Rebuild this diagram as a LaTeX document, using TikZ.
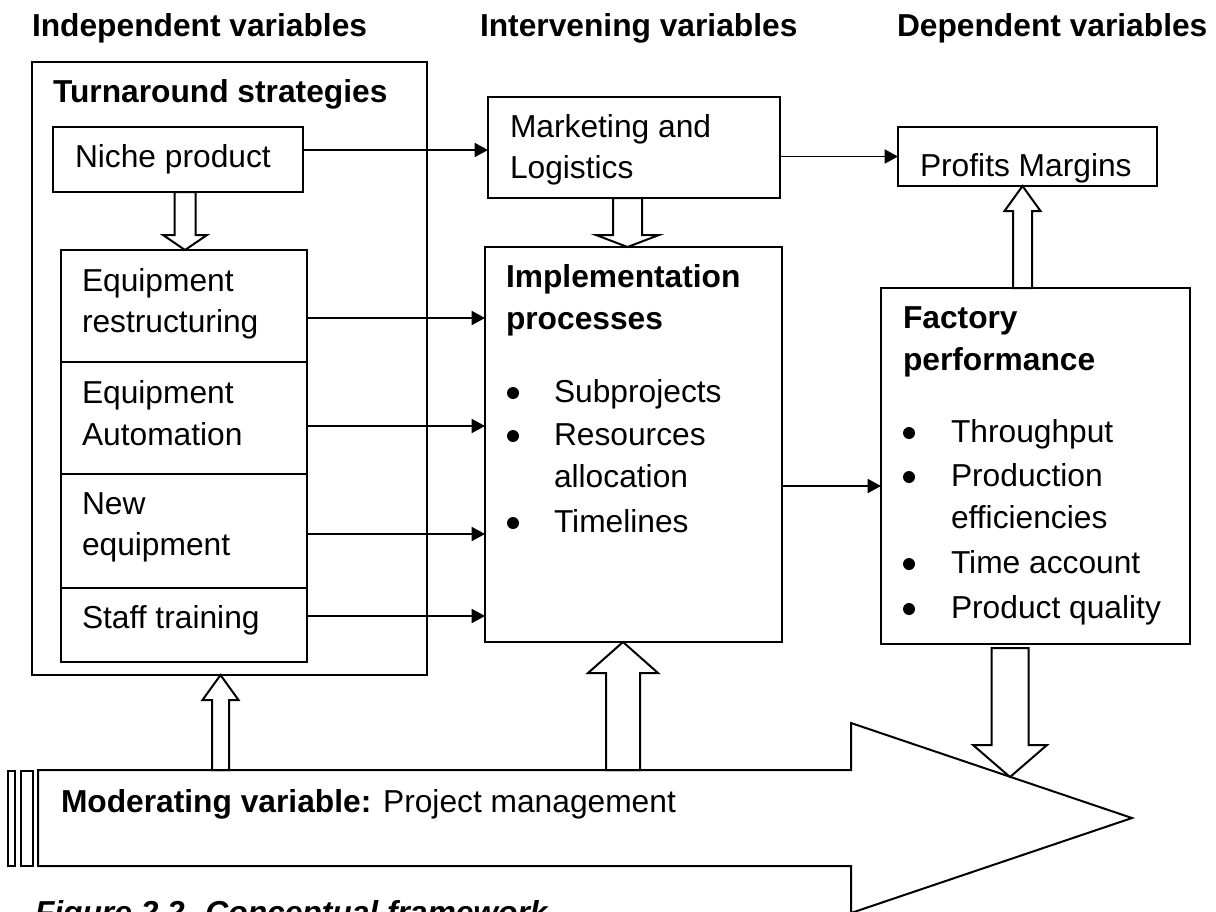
\documentclass[tikz,border=0pt]{standalone}
\usepackage{fontspec}
\setmainfont{Liberation Sans}
\usetikzlibrary{arrows.meta,calc,fit}

% vertical block arrow: #1 start point, #2 tip point,
% #3 half shaft width, #4 half head width, #5 head length (signed, towards start)
\newcommand{\vblock}[5]{%
  \draw[blk] let \p1=(#1), \p2=(#2), \p3=($(#2)+(0,#5)$) in
    (\x2-#3*0.75pt,\y1) -- (\x2-#3*0.75pt,\y3) -- (\x2-#4*0.75pt,\y3) -- (\p2)
    -- (\x2+#4*0.75pt,\y3) -- (\x2+#3*0.75pt,\y3) -- (\x2+#3*0.75pt,\y1) -- cycle;}

\begin{document}
\begin{tikzpicture}[x=0.75pt,y=-0.75pt,
  every node/.style={inner sep=0pt, outer sep=0pt},
  box/.style={draw, line width=1.5pt, rectangle, inner sep=0pt},
  txt/.style={anchor=base west, font=\fontsize{23.8pt}{30.75pt}\selectfont},
  btxt/.style={anchor=base west, font=\fontsize{23.8pt}{30.75pt}\selectfont\bfseries},
  dot/.style={circle, fill=black, minimum size=9pt},
  arr/.style={line width=1.3pt, -{Triangle[length=10pt,width=10.5pt]}},
  blk/.style={draw, line width=1.5pt, fill=white, line join=miter},
]
\useasboundingbox (0,0) rectangle (1216,911);

% column headings
\node[btxt] (hInd) at (32,36) {Independent variables};
\node[btxt] (hInt) at (480,36) {Intervening variables};
\node[btxt] (hDep) at (897,36) {Dependent variables};

% turnaround strategies
\node[box, fit={(32,62)(427,675)}] (outer) {};
\node[btxt] (tTurn) at (53,102) {Turnaround strategies};
\node[box, fit={(53,127)(303,192)}] (niche) {};
\node[txt] (tNiche) at (75,167) {Niche product};

\node[box, fit={(61,250)(307,362)}] (rowA) {};
\node[box, fit={(61,362)(307,474)}] (rowB) {};
\node[box, fit={(61,474)(307,588)}] (rowC) {};
\node[box, fit={(61,588)(307,662)}] (rowD) {};
\node[txt] (tA1) at (82,291) {Equipment};
\node[txt] (tA2) at (82,332) {restructuring};
\node[txt] (tB1) at (82,403) {Equipment};
\node[txt] (tB2) at (82,445) {Automation};
\node[txt] (tC1) at (82,514) {New};
\node[txt] (tC2) at (82,555) {equipment};
\node[txt] (tD1) at (82,628) {Staff training};

% intervening
\node[box, fit={(488,97)(780,198)}] (mkt) {};
\node[txt] (tM1) at (510,137) {Marketing and};
\node[txt] (tM2) at (510,178) {Logistics};

\node[box, fit={(485,247)(782,642)}] (impl) {};
\node[btxt] (tI1) at (506,287) {Implementation};
\node[btxt] (tI2) at (506,329) {processes};
\node[dot] (bI1) at (513,393) {};
\node[dot] (bI2) at (513,436) {};
\node[dot] (bI3) at (513,523) {};
\node[txt] (tI3) at (554,402) {Subprojects};
\node[txt] (tI4) at (554,445) {Resources};
\node[txt] (tI5) at (554,487) {allocation};
\node[txt] (tI6) at (554,532) {Timelines};

% dependent
\node[box, fit={(898,127)(1157,186)}] (prof) {};
\node[txt] (tP) at (920,176) {Profits Margins};

\node[box, fit={(881,288)(1190,644)}] (factory) {};
\node[btxt] (tF1) at (903,328) {Factory};
\node[btxt] (tF2) at (903,370) {performance};
\node[dot] (bF1) at (909,433) {};
\node[dot] (bF2) at (909,477) {};
\node[dot] (bF3) at (909,564) {};
\node[dot] (bF4) at (909,609) {};
\node[txt] (tF3) at (951,442) {Throughput};
\node[txt] (tF4) at (951,486) {Production};
\node[txt] (tF5) at (951,528) {efficiencies};
\node[txt] (tF6) at (951,573) {Time account};
\node[txt] (tF7) at (951,618) {Product quality};

% connector levels
\coordinate (y0) at (0,150);
\coordinate (yA) at (0,318);
\coordinate (yB) at (0,426);
\coordinate (yC) at (0,534);
\coordinate (yD) at (0,616);
\coordinate (yE) at (0,486);

\draw[arr] (niche.east |- y0) -- (mkt.west |- y0);
\draw[arr] (mkt.east |- prof.west) -- (prof.west);
\draw[arr] (rowA.east |- yA) -- (impl.west |- yA);
\draw[arr] (rowB.east |- yB) -- (impl.west |- yB);
\draw[arr] (rowC.east |- yC) -- (impl.west |- yC);
\draw[arr] (rowD.east |- yD) -- (impl.west |- yD);
\draw[arr] (impl.east |- yE) -- (factory.west |- yE);

% moderating variable: large arrow with two bars at its tail
\coordinate (mTL) at (38,770);
\coordinate (mHT) at (851,770);
\coordinate (mTip) at (1132,818);
\draw[line width=1.5pt, line join=miter, fill=white]
  (mTL) -- (mHT) -- (851,723) -- (mTip) -- (851,913) -- (851,866) -- (38,866) -- cycle;
\draw[line width=1.5pt] (8,771) rectangle (15,866);
\draw[line width=1.5pt] (21,771) rectangle (33,866);
\node[txt] (tMod) at (61,812) {\textbf{Moderating variable:} Project management};

% block arrows
\coordinate (n1s) at (185,0 |- niche.south);
\coordinate (n1t) at (185,0 |- rowA.north);
\vblock{n1s}{n1t}{10.5}{22}{-15}

\coordinate (m1s) at (627.5,0 |- mkt.south);
\coordinate (m1t) at (627.5,0 |- impl.north);
\vblock{m1s}{m1t}{14.5}{31.5}{-12}

\coordinate (p1s) at (1022.5,0 |- factory.north);
\coordinate (p1t) at (1022.5,0 |- prof.south);
\vblock{p1s}{p1t}{9.5}{18}{25}

\coordinate (f1s) at ($(1009.5,0 |- factory.south)+(0,4)$);
\coordinate (f1t) at (1010,777);
\vblock{f1s}{f1t}{18.5}{37}{-32}

\coordinate (i1s) at (623,0 |- mHT);
\coordinate (i1t) at (623,0 |- impl.south);
\vblock{i1s}{i1t}{17}{35}{31}

\coordinate (o1s) at (220.5,0 |- mTL);
\coordinate (o1t) at (220.5,0 |- outer.south);
\vblock{o1s}{o1t}{8.5}{18}{25}

% caption
\node[anchor=base west, font=\fontsize{23.8pt}{30.75pt}\selectfont\bfseries\itshape] (cap) at (35,923) {Figure 2.2. Conceptual framework};
\end{tikzpicture}
\end{document}
